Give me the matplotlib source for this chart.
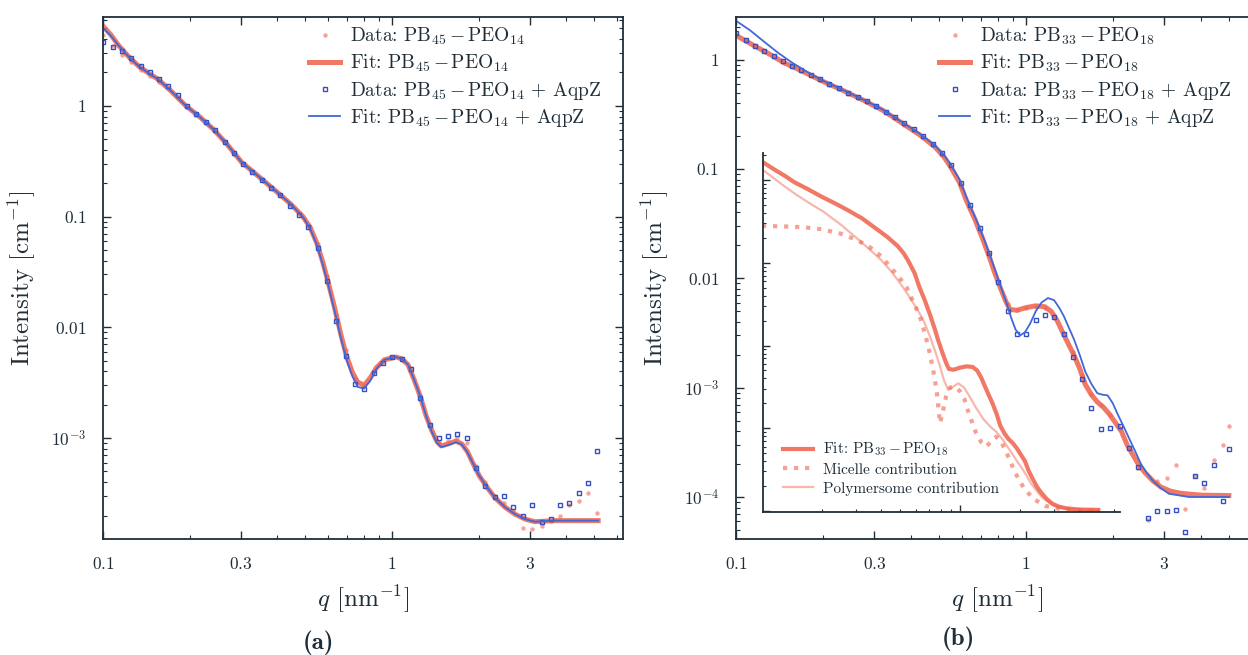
#!/usr/bin/env python

import math
import matplotlib
matplotlib.use("Agg")
import matplotlib.pyplot as plt
from matplotlib.ticker import FixedLocator, LogLocator, NullFormatter, FuncFormatter

plt.rcParams['font.family'] = 'serif'
plt.rcParams['font.serif'] = ['cmr10', 'DejaVu Serif']
plt.rcParams['mathtext.fontset'] = 'cm'
plt.rcParams['axes.unicode_minus'] = False

# ---------------- panel (a): PB45-PEO14 ----------------
q_data_a = [0.100, 0.108, 0.116, 0.125, 0.135, 0.145, 0.156, 0.168, 0.181, 0.195,
            0.210, 0.226, 0.244, 0.263, 0.283, 0.305, 0.328, 0.354, 0.381, 0.410,
            0.442, 0.476, 0.513, 0.553, 0.595, 0.641, 0.691, 0.744, 0.802, 0.864,
            0.930, 1.00, 1.08, 1.16, 1.25, 1.35, 1.45, 1.56, 1.68, 1.81,
            1.95, 2.10, 2.27, 2.44, 2.63, 2.83, 3.05, 3.29, 3.54, 3.81,
            4.11, 4.43, 4.77, 5.14]
red_data_a = [4.4, 3.5, 2.9, 2.5, 2.1, 1.85, 1.65, 1.45, 1.2, 0.97,
              0.83, 0.70, 0.59, 0.47, 0.37, 0.30, 0.255, 0.215, 0.183, 0.158,
              0.128, 0.108, 0.083, 0.056, 0.029, 0.0130, 0.0062, 0.0034, 0.0030, 0.0040,
              0.0049, 0.0054, 0.0052, 0.0043, 0.0024, 0.0013, 9.0e-4, 9.5e-4, 1.0e-3, 9.0e-4,
              5.6e-4, 4.0e-4, 3.0e-4, 2.6e-4, 2.2e-4, 1.55e-4, 1.5e-4, 1.6e-4, 1.8e-4, 2.0e-4,
              2.5e-4, 2.7e-4, 3.2e-4, 2.1e-4]
blue_data_a = [3.8, 3.4, 3.1, 2.7, 2.3, 2.0, 1.76, 1.5, 1.24, 1.0,
               0.84, 0.71, 0.60, 0.47, 0.375, 0.30, 0.252, 0.215, 0.182, 0.155,
               0.125, 0.104, 0.080, 0.052, 0.026, 0.0115, 0.0055, 0.0031, 0.0028, 0.0039,
               0.0048, 0.0054, 0.0052, 0.0042, 0.0023, 0.0013, 1.0e-3, 1.05e-3, 1.1e-3, 1.0e-3,
               5.4e-4, 3.7e-4, 2.95e-4, 3.0e-4, 2.4e-4, 2.0e-4, 2.5e-4, 1.75e-4, 1.85e-4, 2.5e-4,
               2.6e-4, 3.2e-4, 3.9e-4, 7.7e-4]

q_fit_a = [0.100, 0.106, 0.113, 0.122, 0.132, 0.143, 0.155, 0.172, 0.193, 0.215,
           0.241, 0.268, 0.301, 0.345, 0.40, 0.445, 0.491, 0.52, 0.548, 0.575,
           0.603, 0.633, 0.663, 0.695, 0.729, 0.76, 0.80, 0.84, 0.881, 0.94,
           1.03, 1.08, 1.135, 1.19, 1.25, 1.31, 1.37, 1.43, 1.48, 1.57,
           1.66, 1.74, 1.82, 1.90, 2.00, 2.13, 2.27, 2.45, 2.66, 2.90,
           3.12, 3.65, 5.17]
red_fit_a = [5.2, 4.4, 3.5, 2.8, 2.3, 1.98, 1.73, 1.35, 1.0, 0.80,
             0.61, 0.45, 0.31, 0.23, 0.166, 0.13, 0.10, 0.08, 0.058, 0.039,
             0.0245, 0.0148, 0.0088, 0.0055, 0.0039, 0.0032, 0.0030, 0.0035, 0.0043, 0.0051,
             0.0054, 0.0052, 0.0046, 0.0034, 0.0024, 0.0016, 0.00118, 9.3e-4, 8.5e-4, 8.9e-4,
             9.4e-4, 8.9e-4, 7.6e-4, 6.0e-4, 4.6e-4, 3.6e-4, 2.9e-4, 2.4e-4, 2.06e-4, 1.85e-4,
             1.76e-4, 1.8e-4, 1.8e-4]
blue_fit_a = [5.0, 4.3, 3.5, 2.8, 2.3, 1.98, 1.73, 1.35, 1.0, 0.80,
              0.61, 0.45, 0.31, 0.23, 0.166, 0.13, 0.099, 0.078, 0.056, 0.037,
              0.0232, 0.0138, 0.0082, 0.0051, 0.0036, 0.0029, 0.0028, 0.0033, 0.0042, 0.0051,
              0.0054, 0.0052, 0.0046, 0.0034, 0.0024, 0.0016, 0.00115, 9.0e-4, 8.3e-4, 8.7e-4,
              9.2e-4, 8.8e-4, 7.5e-4, 6.0e-4, 4.6e-4, 3.6e-4, 2.9e-4, 2.4e-4, 2.06e-4, 1.85e-4,
              1.76e-4, 1.8e-4, 1.8e-4]

labels_a = [r'Data: PB$_{45}\,{-}\,$PEO$_{14}$',
            r'Fit: PB$_{45}\,{-}\,$PEO$_{14}$',
            r'Data: PB$_{45}\,{-}\,$PEO$_{14}$ + AqpZ',
            r'Fit: PB$_{45}\,{-}\,$PEO$_{14}$ + AqpZ']

# ---------------- panel (b): PB33-PEO18 ----------------
q_data_b = [0.100, 0.108, 0.116, 0.125, 0.135, 0.145, 0.156, 0.168, 0.181, 0.195,
            0.210, 0.226, 0.244, 0.263, 0.283, 0.305, 0.328, 0.354, 0.381, 0.410,
            0.442, 0.476, 0.513, 0.553, 0.595, 0.641, 0.691, 0.744, 0.802, 0.864,
            0.930, 1.00, 1.08, 1.16, 1.25, 1.35, 1.45, 1.56, 1.68, 1.81,
            1.95, 2.10, 2.27, 2.44, 2.63, 2.83, 3.05, 3.29, 3.54, 3.81,
            4.11, 4.43, 4.77, 4.99]
red_data_b = [1.70, 1.49, 1.33, 1.20, 1.08, 0.96, 0.87, 0.79, 0.72, 0.65,
              0.59, 0.54, 0.49, 0.45, 0.41, 0.37, 0.33, 0.295, 0.255, 0.225,
              0.195, 0.165, 0.133, 0.102, 0.069, 0.043, 0.027, 0.0162, 0.0090, 0.0058,
              0.0051, 0.0053, 0.0055, 0.0053, 0.0045, 0.0031, 0.0021, 0.0013, 8.8e-4, 7.0e-4,
              5.6e-4, 4.2e-4, 2.8e-4, 1.85e-4, 6.2e-5, 1.4e-4, 1.5e-4, 1.95e-4, 7.7e-5, 1.55e-4,
              1.2e-4, 2.2e-4, 3.0e-4, 4.5e-4]
blue_data_b = [1.76, 1.50, 1.34, 1.20, 1.08, 0.97, 0.88, 0.80, 0.72, 0.66,
               0.60, 0.545, 0.495, 0.455, 0.415, 0.375, 0.335, 0.30, 0.262, 0.23,
               0.20, 0.17, 0.14, 0.108, 0.074, 0.047, 0.029, 0.017, 0.0092, 0.0050,
               0.0031, 0.0031, 0.0042, 0.0046, 0.0044, 0.0031, 0.0019, 0.0012, 6.5e-4, 4.2e-4,
               4.3e-4, 4.5e-4, 2.8e-4, 1.9e-4, 6.4e-5, 7.4e-5, 7.4e-5, 7.6e-5, 4.8e-5, 1.55e-4,
               1.35e-4, 1.95e-4, 9.1e-5, 2.75e-4]

q_fit_b_red = [0.100, 0.115, 0.130, 0.146, 0.170, 0.20, 0.235, 0.275, 0.32, 0.376,
               0.43, 0.484, 0.52, 0.55, 0.59, 0.623, 0.665, 0.707, 0.745, 0.777,
               0.815, 0.855, 0.88, 0.93, 1.0, 1.08, 1.16, 1.22, 1.28, 1.33,
               1.40, 1.46, 1.53, 1.60, 1.68, 1.76, 1.85, 1.94, 2.03, 2.13,
               2.23, 2.34, 2.45, 2.57, 2.74, 2.92, 3.15, 3.42, 4.0, 5.0]
red_fit_b = [1.67, 1.35, 1.13, 0.94, 0.78, 0.63, 0.52, 0.425, 0.345, 0.26,
             0.205, 0.16, 0.13, 0.104, 0.075, 0.0513, 0.035, 0.0233, 0.016, 0.0115,
             0.0082, 0.0060, 0.0052, 0.0051, 0.0054, 0.0056, 0.0055, 0.0050, 0.0041, 0.0033,
             0.0025, 0.0020, 0.0015, 0.00107, 8.6e-4, 7.4e-4, 6.6e-4, 5.7e-4, 4.8e-4, 4.0e-4,
             3.0e-4, 2.4e-4, 1.95e-4, 1.67e-4, 1.4e-4, 1.23e-4, 1.13e-4, 1.08e-4, 1.04e-4, 1.03e-4]

q_fit_b_blue = [0.100, 0.112, 0.125, 0.140, 0.156, 0.175, 0.20, 0.235, 0.275, 0.32,
                0.376, 0.43, 0.484, 0.52, 0.55, 0.59, 0.623, 0.665, 0.707, 0.745,
                0.777, 0.815, 0.855, 0.89, 0.92, 0.953, 0.99, 1.03, 1.08, 1.13,
                1.19, 1.25, 1.30, 1.35, 1.40, 1.46, 1.53, 1.60, 1.68, 1.76,
                1.84, 1.91, 1.99, 2.07, 2.17, 2.27, 2.38, 2.49, 2.61, 2.74,
                2.92, 3.11, 3.64, 5.0]
blue_fit_b = [2.27, 1.85, 1.46, 1.15, 0.94, 0.78, 0.64, 0.525, 0.43, 0.35,
              0.265, 0.21, 0.165, 0.135, 0.11, 0.08, 0.055, 0.037, 0.025, 0.0172,
              0.0125, 0.0086, 0.0060, 0.0043, 0.0034, 0.0030, 0.0032, 0.0038, 0.0050, 0.0060,
              0.0066, 0.0063, 0.0054, 0.0045, 0.0036, 0.0028, 0.0020, 0.0014, 0.00108, 8.9e-4,
              8.6e-4, 8.5e-4, 7.2e-4, 5.7e-4, 4.4e-4, 3.4e-4, 2.6e-4, 2.0e-4, 1.65e-4, 1.4e-4,
              1.2e-4, 1.07e-4, 1.0e-4, 1.0e-4]

labels_b = [r'Data: PB$_{33}\,{-}\,$PEO$_{18}$',
            r'Fit: PB$_{33}\,{-}\,$PEO$_{18}$',
            r'Data: PB$_{33}\,{-}\,$PEO$_{18}$ + AqpZ',
            r'Fit: PB$_{33}\,{-}\,$PEO$_{18}$ + AqpZ']

# inset: contributions to the PB33-PEO18 fit
q_mic = [0.100, 0.13, 0.16, 0.20, 0.25, 0.30, 0.35, 0.40, 0.443, 0.49,
         0.537, 0.58, 0.628, 0.665, 0.705, 0.735, 0.762, 0.78, 0.792, 0.81,
         0.85, 0.89, 0.92, 0.96, 1.0, 1.05, 1.1, 1.2, 1.28, 1.36,
         1.44, 1.53, 1.62, 1.75, 1.9, 2.1, 2.35, 2.7, 3.2, 4.0, 5.0]
I_mic = [0.28, 0.275, 0.27, 0.255, 0.225, 0.19, 0.155, 0.12, 0.09, 0.068,
         0.051, 0.034, 0.0223, 0.014, 0.008, 0.0048, 0.0029, 0.0017, 0.00115, 0.0014,
         0.0024, 0.0031, 0.0032, 0.0031, 0.0028, 0.0023, 0.0016, 9e-4, 6.8e-4, 6.0e-4,
         7.0e-4, 7.9e-4, 6.8e-4, 4.6e-4, 2.9e-4, 1.9e-4, 1.4e-4, 1.15e-4, 1.06e-4, 1.02e-4, 1.01e-4]
q_poly = [0.100, 0.115, 0.13, 0.15, 0.175, 0.203, 0.25, 0.30, 0.35, 0.40,
          0.443, 0.49, 0.54, 0.60, 0.653, 0.70, 0.75, 0.79, 0.83, 0.873,
          0.91, 0.98, 1.05, 1.12, 1.2, 1.31, 1.42, 1.53, 1.65, 1.79,
          1.94, 2.09, 2.3, 2.6, 3.0, 3.6, 5.0]
I_poly = [1.35, 1.05, 0.84, 0.66, 0.52, 0.42, 0.29, 0.20, 0.145, 0.108,
          0.082, 0.06, 0.043, 0.029, 0.0205, 0.0135, 0.0085, 0.0058, 0.0038, 0.0029,
          0.0031, 0.0035, 0.0031, 0.0024, 0.0018, 0.0013, 0.00105, 9.0e-4, 7.2e-4, 5.4e-4,
          4.0e-4, 3.1e-4, 2.1e-4, 1.45e-4, 1.15e-4, 1.05e-4, 1.02e-4]
labels_inset = [r'Fit: PB$_{33}\,{-}\,$PEO$_{18}$', 'Micelle contribution',
                'Polymersome contribution']

RED = '#f0614b'
RED_DOT = '#f3867a'
BLUE = '#3f68d8'
BLUE_SQ = '#3550c0'
INK = '#1f2e38'


def ylab(v, pos):
    if v >= 0.01:
        return '$%g$' % v
    return r'$10^{%d}$' % round(math.log10(v))


def style_main(ax, ylim):
    ax.set_xscale('log')
    ax.set_yscale('log')
    ax.set_xlim(0.1, 6.3)
    ax.set_ylim(*ylim)
    ax.xaxis.set_major_locator(FixedLocator([0.1, 0.3, 1, 3]))
    ax.xaxis.set_major_formatter(FuncFormatter(lambda v, p: '$%g$' % v))
    ax.xaxis.set_minor_locator(LogLocator(subs=(2, 3, 4, 5, 6, 7, 8, 9)))
    ax.xaxis.set_minor_formatter(NullFormatter())
    ax.yaxis.set_major_locator(LogLocator(numticks=20))
    ax.yaxis.set_major_formatter(FuncFormatter(ylab))
    ax.yaxis.set_minor_locator(LogLocator(subs=(2, 3, 4, 5, 6, 7, 8, 9), numticks=20))
    ax.yaxis.set_minor_formatter(NullFormatter())
    ax.tick_params(which='both', direction='in', top=True, right=True, color=INK,
                   labelcolor=INK, labelsize=12.5, pad=12)
    ax.tick_params(which='major', length=6, width=1.0)
    ax.tick_params(which='minor', length=3, width=0.8)
    for s in ax.spines.values():
        s.set_color(INK)
        s.set_linewidth(1.3)
    ax.set_xlabel(r'$q$ [nm$^{\mathsf{-1}}$]', fontsize=18, color=INK)
    ax.set_ylabel(r'Intensity [cm$^{\mathsf{-1}}$]', fontsize=18, color=INK)
    ax.xaxis.set_label_coords(0.5, -0.085)
    ax.yaxis.set_label_coords(-0.125, 0.5)


def draw_panel(ax, qd, red_d, blue_d, qf_r, red_f, qf_b, blue_f, labels, anchor):
    ax.plot(qd, red_d, 'o', ms=3.2, color=RED_DOT, mec='none', alpha=0.75, label=labels[0])
    ax.plot(qf_r, red_f, '-', lw=3.6, color=RED, alpha=0.85, label=labels[1])
    ax.plot(qd, blue_d, 's', ms=3.4, mfc='none', mec=BLUE_SQ, mew=1.0, label=labels[2])
    ax.plot(qf_b, blue_f, '-', lw=1.3, color=BLUE, label=labels[3])
    ax.legend(loc='upper right', bbox_to_anchor=anchor, frameon=False, fontsize=14,
              handlelength=1.6, handletextpad=0.5, labelspacing=0.28, borderpad=0,
              borderaxespad=0, numpoints=1, labelcolor=INK)


fig = plt.figure(figsize=(12.48, 6.55), dpi=100)
ax_a = fig.add_axes([0.0828, 0.1766, 0.4164, 0.7979])
ax_b = fig.add_axes([0.5897, 0.1766, 0.4183, 0.7979])

style_main(ax_a, (1.22e-4, 6.37))
style_main(ax_b, (4.1e-5, 2.47))

draw_panel(ax_a, q_data_a, red_data_a, blue_data_a, q_fit_a, red_fit_a, q_fit_a, blue_fit_a,
           labels_a, (0.958, 0.982))
draw_panel(ax_b, q_data_b, red_data_b, blue_data_b, q_fit_b_red, red_fit_b, q_fit_b_blue,
           blue_fit_b, labels_b, (0.948, 0.982))

# inset with the two contributions
ins = fig.add_axes([0.6116, 0.2188, 0.2858, 0.5472])
ins.set_facecolor('none')
ins.set_xscale('log')
ins.set_yscale('log')
ins.set_xlim(0.1015, 6.43)
ins.set_ylim(9.8e-5, 2.11)
ins.plot(q_fit_b_red, red_fit_b, '-', lw=3.0, color=RED, alpha=0.85, label=labels_inset[0])
ins.plot(q_mic, I_mic, ':', lw=3.0, color=RED, alpha=0.6, label=labels_inset[1])
ins.plot(q_poly, I_poly, '-', lw=1.6, color=RED, alpha=0.45, label=labels_inset[2])
for side in ('top', 'right'):
    ins.spines[side].set_visible(False)
for side in ('left', 'bottom'):
    ins.spines[side].set_color(INK)
    ins.spines[side].set_linewidth(1.3)
ins.xaxis.set_minor_locator(LogLocator(subs=(2, 3, 4, 5, 6, 7, 8, 9)))
ins.yaxis.set_major_locator(LogLocator(numticks=20))
ins.yaxis.set_minor_locator(LogLocator(subs=(2, 3, 4, 5, 6, 7, 8, 9), numticks=20))
ins.xaxis.set_major_formatter(NullFormatter())
ins.xaxis.set_minor_formatter(NullFormatter())
ins.yaxis.set_major_formatter(NullFormatter())
ins.yaxis.set_minor_formatter(NullFormatter())
ins.tick_params(which='both', direction='in', color=INK)
ins.tick_params(which='major', length=5, width=1.0)
ins.tick_params(which='minor', length=2.5, width=0.8)
ins.legend(loc='lower left', bbox_to_anchor=(0.055, 0.045), frameon=False, fontsize=11,
           handlelength=2.0, handletextpad=0.6, labelspacing=0.3, borderpad=0,
           borderaxespad=0, labelcolor=INK)

fig.text(318 / 1248, 1 - 643 / 655, '(a)', fontsize=18, fontfamily='cmb10',
         ha='center', va='center', color=INK)
fig.text(958 / 1248, 1 - 639 / 655, '(b)', fontsize=18, fontfamily='cmb10',
         ha='center', va='center', color=INK)

fig.savefig('out.png', dpi=100)
